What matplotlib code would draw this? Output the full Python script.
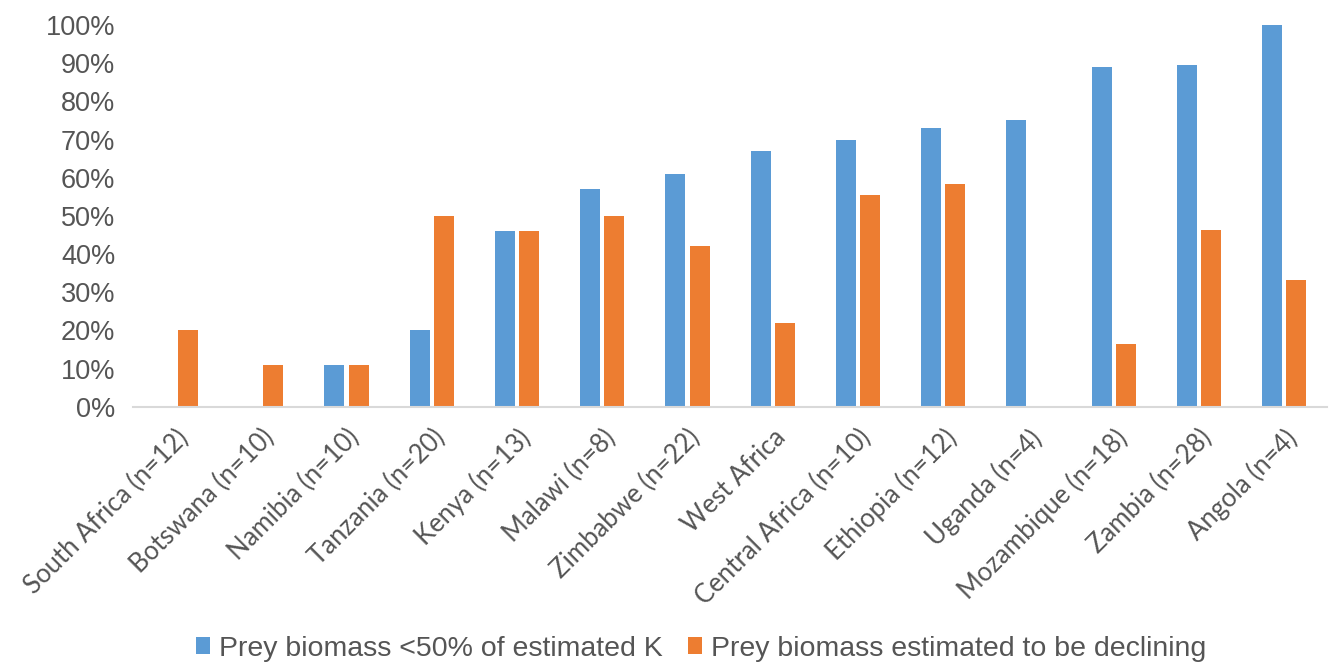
import numpy as np
import matplotlib
matplotlib.use("Agg")
import matplotlib.pyplot as plt
from matplotlib.ticker import PercentFormatter

plt.rcParams['font.family'] = ['Liberation Sans', 'DejaVu Sans']

# donnees
regions = ["South Africa (n=12)", "Botswana (n=10)", "Namibia (n=10)", "Tanzania (n=20)",
           "Kenya (n=13)", "Malawi (n=8)", "Zimbabwe (n=22)", "West Africa",
           "Central Africa (n=10)", "Ethiopia (n=12)", "Uganda (n=4)",
           "Mozambique (n=18)", "Zambia (n=28)", "Angola (n=4)"]
below_50k = [0, 0, 11, 20, 46, 57, 61, 67, 70, 73, 75, 89, 89.5, 100]
declining = [20, 11, 11, 50, 46, 50, 42, 22, 55.6, 58.3, 0, 16.5, 46.3, 33.3]

label_a = "Prey biomass <50% of estimated K"
label_b = "Prey biomass estimated to be declining"

blue = "#5B9BD5"
orange = "#ED7D31"
grey_txt = "#555555"

fig = plt.figure(figsize=(13.33, 6.67), dpi=100)
ax = fig.add_axes([0.1, 0.39, 0.8955, 0.5725])

x = np.arange(len(regions))
w = 0.235
ax.bar(x - 0.142, below_50k, width=w, color=blue, label=label_a)
ax.bar(x + 0.142, declining, width=w, color=orange, label=label_b)

ax.set_xlim(-0.5, len(regions) - 0.5)
ax.set_ylim(0, 100)
ax.set_yticks(np.arange(0, 101, 10))
ax.yaxis.set_major_formatter(PercentFormatter(decimals=0))
ax.tick_params(axis='y', length=0, labelsize=19.5, labelcolor=grey_txt, pad=13)

# etiquettes des pays (police type Calibri -> Lato)
ax.set_xticks(x)
ax.set_xticklabels(regions, rotation=45, ha='right', rotation_mode='anchor',
                   fontsize=18.5, color=grey_txt, family=['Lato', 'DejaVu Sans'])
ax.tick_params(axis='x', length=0, pad=13)

for side in ['top', 'right', 'left']:
    ax.spines[side].set_visible(False)
ax.spines['bottom'].set_color('#D9D9D9')
ax.spines['bottom'].set_linewidth(1.5)

fig.legend(loc='center', bbox_to_anchor=(0.526, 0.027), ncol=2, frameon=False,
           fontsize=20.5, labelcolor=grey_txt, handlelength=0.5, handleheight=0.55,
           handletextpad=0.3, columnspacing=0.9)

fig.savefig("out.png", dpi=100)
